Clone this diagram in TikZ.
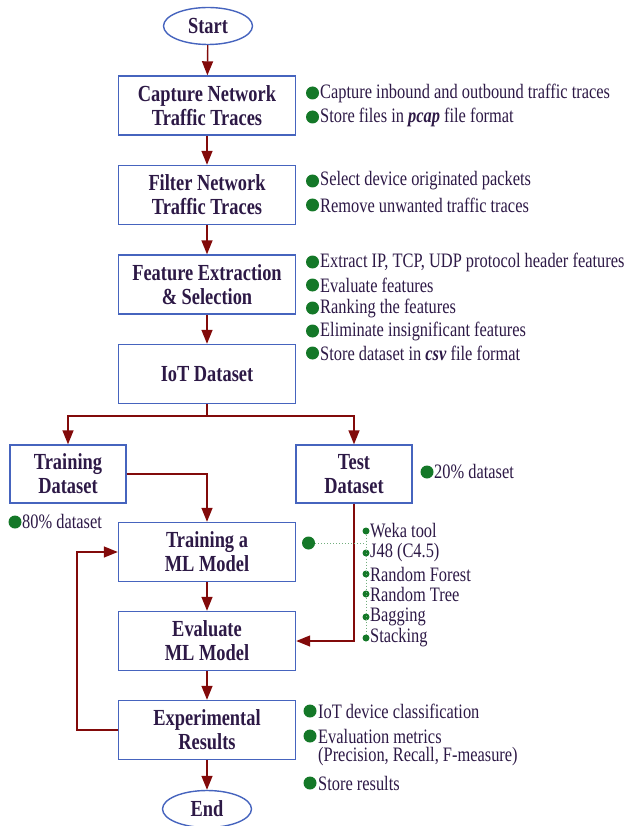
\documentclass[tikz,border=0pt]{standalone}
\usepackage{fontspec}
\setmainfont{Liberation Serif}[FakeStretch=0.8]
\usetikzlibrary{arrows.meta,positioning,shapes.geometric}
\definecolor{boxblue}{RGB}{70,100,190}
\definecolor{flowred}{RGB}{130,10,10}
\definecolor{dotgreen}{RGB}{20,120,40}
\definecolor{inkdark}{RGB}{45,25,70}

\tikzset{
  stepbox/.style={draw=boxblue, line width=1.4pt, minimum width=177pt, minimum height=59pt,
    align=center, text=inkdark, font=\fontsize{23}{24}\selectfont\bfseries},
  databox/.style={stepbox, minimum width=116pt, minimum height=58pt},
  termbox/.style={ellipse, draw=boxblue, line width=1.4pt, minimum width=89pt, minimum height=37pt,
    inner sep=0pt, text=inkdark, font=\fontsize{23}{24}\selectfont\bfseries},
  flow/.style={draw=flowred, line width=1.4pt, -{Triangle[length=14pt,width=11pt]}},
  bigdot/.style={circle, fill=dotgreen, inner sep=0pt, minimum size=13pt},
  smalldot/.style={circle, fill=dotgreen, inner sep=0pt, minimum size=7pt},
  note/.style={anchor=west, inner sep=0pt, text=inkdark, font=\fontsize{20.5}{24}\selectfont}
}

\begin{document}
\begin{tikzpicture}[x=1pt, y=-1pt]
  \useasboundingbox (0,0) rectangle (631,826);
  % ---- main flow ----
  \node[termbox] (start) at (208,26) {Start};
  \node[stepbox] (capture) at (207,105.5) {Capture Network\\Traffic Traces};
  \node[stepbox] (filter) at (207,195) {Filter Network\\Traffic Traces};
  \node[stepbox] (feature) at (207,284.5) {Feature Extraction\\\& Selection};
  \node[stepbox] (iot) at (207,374) {IoT Dataset};
  \node[databox] (train) at (68,474) {Training\\Dataset};
  \node[databox] (test) at (354,474) {Test\\Dataset};
  \node[stepbox] (model) at (207,552) {Training a\\ML Model};
  \node[stepbox] (evaluate) at (207,641) {Evaluate\\ML Model};
  \node[stepbox] (results) at (207,730) {Experimental\\Results};
  \node[termbox] (end) at (207,809) {End};
  % ---- connectors ----
  \draw[flow] (start) -- (capture);
  \draw[flow] (capture) -- (filter);
  \draw[flow] (filter) -- (feature);
  \draw[flow] (feature) -- (iot);
  \coordinate (split) at (207,416);
  \draw[flow] (iot.south) -- (split) -| (train.north);
  \draw[flow] (split) -| (test.north);
  \draw[flow] (train.east) -| (model.north);
  \draw[flow] (test.south) |- (evaluate.east);
  \draw[flow] (model) -- (evaluate);
  \draw[flow] (evaluate) -- (results);
  \draw[flow] (results) -- (end);
  \draw[flow] (results.west) -- ++(-41,0) |- (model.west);
  % ---- notes beside the steps ----
  \foreach \y/\txt [count=\i] in {93/Capture inbound and outbound traffic traces,
      117/Store files in \textbf{\itshape pcap} file format,
      181/Select device originated packets,
      205/Remove unwanted traffic traces,
      262/{Extract IP, TCP, UDP protocol header features},
      285/Evaluate features,
      308/Ranking the features,
      331/Eliminate insignificant features,
      353/Store dataset in \textbf{\itshape csv} file format} {
    \node[bigdot] (dot\i) at (312.5,\y) {};
    \node[note] (note\i) at (320,\y) {\txt};
  }
  \node[bigdot] (dottest) at (427,472) {};
  \node[note] (notetest) at (434,472) {20\% dataset};
  \node[bigdot] (dottrain) at (15,522) {};
  \node[note] (notetrain) at (22,522) {80\% dataset};
  % ---- algorithms ----
  \node[bigdot] (dotalg) at (308.5,543) {};
  \coordinate (hub) at (366,543);
  \foreach \y/\txt [count=\i] in {531/Weka tool, 553/J48 (C4.5), 574/Random Forest,
      594/Random Tree, 617/Bagging, 638/Stacking} {
    \node[smalldot] (alg\i) at (366,\y) {};
    \node[note] (algtext\i) at (370,\y) {\txt};
  }
  \draw[dotgreen!60, dotted, line width=1pt] (dotalg) -- (hub);
  \draw[dotgreen!60, dotted, line width=1pt] (alg1) -- (alg6);
  % ---- results notes ----
  \node[bigdot] (res1) at (310,711) {};
  \node[note] (restext1) at (318,711) {IoT device classification};
  \node[bigdot] (res2) at (310,736) {};
  \node[note] (restext2) at (318,736) {Evaluation metrics};
  \node[note] (restext3) at (318,757) {(Precision, Recall, F-measure)};
  \node[bigdot] (res4) at (310,783) {};
  \node[note] (restext4) at (318,783) {Store results};
\end{tikzpicture}
\end{document}
